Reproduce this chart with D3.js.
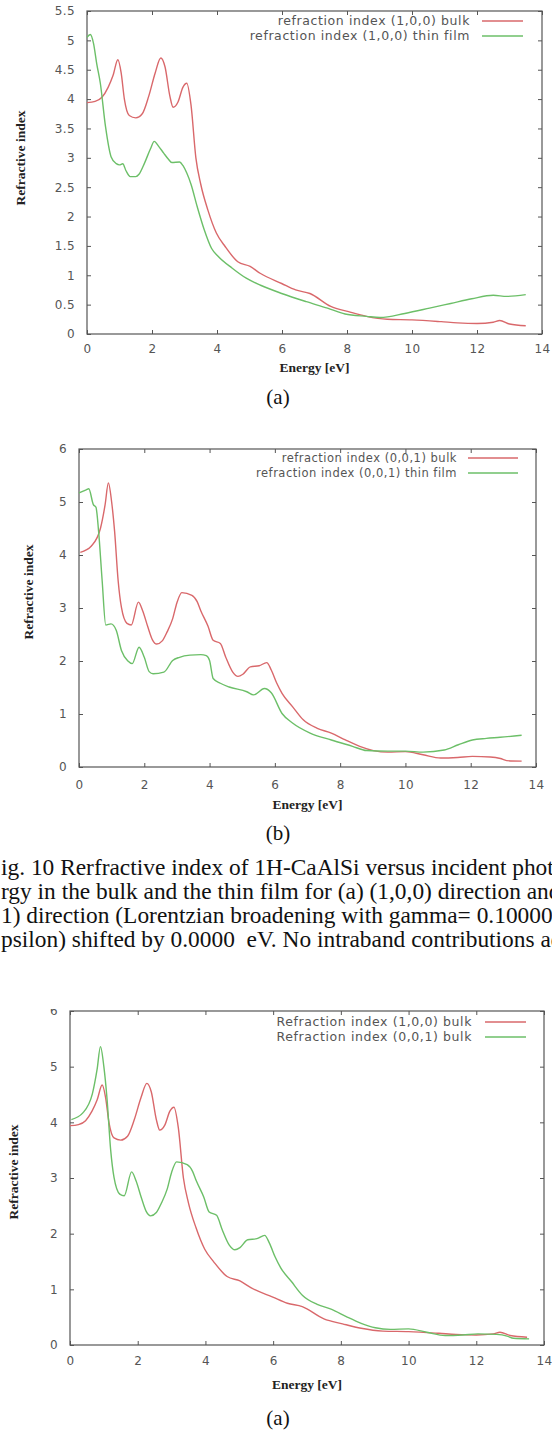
<!DOCTYPE html>
<html>
<head>
<meta charset="UTF-8">
<title>Refractive index of 1H-CaAlSi</title>
<script src="https://cdn.jsdelivr.net/npm/d3@7"></script>
<style>
    body { margin: 0; padding: 0; background: #fff; }
    svg { display: block; }
    .tick text { font-family: "DejaVu Sans", sans-serif; font-size: 12px; fill: #555; letter-spacing: 0.4px; }
    .tick line { stroke: #555; }
    .legend { font-family: "DejaVu Sans", sans-serif; fill: #555; }
    .axis-title { font-family: "Liberation Serif", "Times New Roman", serif; font-weight: bold; font-size: 13.5px; fill: #222; }
    .sub { font-family: "Liberation Serif", "Times New Roman", serif; font-size: 21px; fill: #111; }
    .caption { font-family: "Liberation Serif", "Times New Roman", serif; font-size: 23.4px; fill: #111; white-space: pre; }
</style>
</head>
<body>
<script>
    // (1,0,0) bulk
    const bulk100Energy = [0.00, 0.25, 0.46, 0.65, 0.80, 0.95, 1.05, 1.15, 1.30, 1.50, 1.70, 1.90, 2.10, 2.27, 2.40, 2.55, 2.65, 2.80, 2.95, 3.07, 3.20, 3.35, 3.50, 3.72, 3.98, 4.25, 4.64, 5.02, 5.34, 5.99, 6.42, 6.86, 7.50, 8.05, 8.60, 9.24, 10.0, 10.9, 11.4, 12.0, 12.5, 12.7, 13.0, 13.5];
    const bulk100Index  = [3.94, 3.96, 4.03, 4.20, 4.40, 4.67, 4.45, 4.00, 3.72, 3.68, 3.75, 4.05, 4.45, 4.70, 4.55, 4.05, 3.86, 3.95, 4.20, 4.27, 3.90, 3.00, 2.55, 2.11, 1.72, 1.49, 1.23, 1.15, 1.03, 0.86, 0.75, 0.69, 0.47, 0.38, 0.30, 0.25, 0.24, 0.21, 0.19, 0.18, 0.20, 0.23, 0.17, 0.14];

    // (1,0,0) thin film
    const film100Energy = [0.00, 0.10, 0.20, 0.30, 0.41, 0.57, 0.74, 0.90, 1.00, 1.10, 1.20, 1.33, 1.50, 1.60, 1.77, 1.95, 2.07, 2.20, 2.36, 2.50, 2.61, 2.85, 2.95, 3.07, 3.20, 3.39, 3.61, 3.83, 4.04, 4.47, 4.90, 5.34, 5.99, 6.75, 7.40, 7.94, 8.60, 9.02, 9.78, 10.54, 11.19, 11.84, 12.50, 12.92, 13.50];
    const film100Index  = [5.05, 5.10, 4.95, 4.60, 4.27, 3.53, 3.02, 2.90, 2.88, 2.90, 2.78, 2.68, 2.68, 2.72, 2.91, 3.15, 3.28, 3.20, 3.08, 2.98, 2.92, 2.93, 2.87, 2.74, 2.55, 2.17, 1.77, 1.46, 1.32, 1.12, 0.95, 0.83, 0.69, 0.55, 0.44, 0.34, 0.30, 0.28, 0.35, 0.44, 0.52, 0.60, 0.66, 0.64, 0.67];

    // (0,0,1) bulk
    const bulk001Energy = [0.04, 0.38, 0.66, 0.80, 0.90, 1.00, 1.09, 1.20, 1.30, 1.47, 1.60, 1.82, 1.95, 2.11, 2.25, 2.38, 2.55, 2.70, 2.87, 3.00, 3.15, 3.46, 3.62, 3.73, 3.95, 4.11, 4.33, 4.49, 4.71, 4.87, 5.02, 5.25, 5.52, 5.75, 5.89, 6.06, 6.22, 6.54, 6.87, 7.30, 7.73, 8.16, 8.60, 9.02, 9.46, 10.0, 10.54, 11.08, 11.60, 12.05, 12.60, 12.91, 13.10, 13.56];
    const bulk001Index  = [4.05, 4.17, 4.51, 4.95, 5.36, 5.00, 4.45, 3.51, 3.01, 2.71, 2.68, 3.11, 2.95, 2.64, 2.40, 2.32, 2.38, 2.55, 2.80, 3.10, 3.29, 3.24, 3.12, 2.95, 2.66, 2.39, 2.33, 2.08, 1.79, 1.71, 1.75, 1.89, 1.91, 1.97, 1.83, 1.58, 1.39, 1.14, 0.89, 0.73, 0.64, 0.51, 0.39, 0.31, 0.28, 0.29, 0.23, 0.17, 0.18, 0.20, 0.19, 0.16, 0.12, 0.11];

    // (0,0,1) thin film
    const film001Energy = [0.00, 0.22, 0.30, 0.44, 0.52, 0.60, 0.71, 0.82, 0.98, 1.14, 1.30, 1.50, 1.63, 1.84, 2.00, 2.15, 2.27, 2.60, 2.87, 3.08, 3.40, 3.73, 3.90, 4.00, 4.11, 4.33, 4.60, 5.14, 5.35, 5.68, 5.89, 6.22, 6.54, 7.08, 7.73, 8.38, 8.81, 9.46, 10.0, 10.54, 11.19, 11.62, 12.05, 12.48, 12.90, 13.56];
    const film001Index  = [5.17, 5.23, 5.25, 4.95, 4.90, 4.45, 3.51, 2.68, 2.70, 2.58, 2.20, 2.00, 1.95, 2.26, 2.07, 1.80, 1.76, 1.79, 2.01, 2.07, 2.11, 2.12, 2.10, 2.01, 1.67, 1.58, 1.51, 1.42, 1.36, 1.48, 1.40, 1.01, 0.83, 0.64, 0.51, 0.39, 0.31, 0.30, 0.30, 0.28, 0.32, 0.42, 0.51, 0.54, 0.56, 0.60];

    const xTicks = [0, 2, 4, 6, 8, 10, 12, 14];
    const yTicksA = [0, 0.5, 1, 1.5, 2, 2.5, 3, 3.5, 4, 4.5, 5, 5.5];
    const yTicksB = [0, 1, 2, 3, 4, 5, 6];

    const legendA = ["refraction index (1,0,0) bulk", "refraction index (1,0,0) thin film"];
    const legendB = ["refraction index (0,0,1) bulk", "refraction index (0,0,1) thin film"];
    const legendC = ["Refraction index (1,0,0) bulk", "Refraction index (0,0,1) bulk"];

    const captionLines = [
        "ig. 10 Rerfractive index of 1H-CaAlSi versus incident photon energy",
        "rgy in the bulk and the thin film for (a) (1,0,0) direction and (b)",
        "1) direction (Lorentzian broadening with gamma= 0.100000 eV",
        "psilon) shifted by 0.0000  eV. No intraband contributions added"
    ];

    const RED = "#d9686b", GREEN = "#6cbf68";

    const width = 552, height = 1432;
    const svg = d3.select("body").append("svg")
        .attr("width", width).attr("height", height);

    function series(energy, index) {
        return energy.map(function(e, i) { return {e: e, n: index[i]}; });
    }

    const panels = [
        {left: 87, right: 542, top: 11, bottom: 334, yMax: 5.5, yTicks: yTicksA,
         legend: legendA, legendSize: 12.5, legendSpacing: 0.6,
         legendEnd: 470, legendX1: 482, legendX2: 523, legendY: 21,
         titleX: 20, titleY: 158, tickY: 14, energyY: 372, sub: "(a)", subY: 404,
         clipTop: 0,
         lines: [series(bulk100Energy, bulk100Index), series(film100Energy, film100Index)]},
        {left: 79, right: 536, top: 449, bottom: 767, yMax: 6, yTicks: yTicksB,
         legend: legendB, legendSize: 11.5, legendSpacing: 0.5,
         legendEnd: 457, legendX1: 468, legendX2: 518, legendY: 458,
         titleX: 28, titleY: 592, tickY: 17, energyY: 809, sub: "(b)", subY: 840,
         clipTop: 420,
         lines: [series(bulk001Energy, bulk001Index), series(film001Energy, film001Index)]},
        {left: 70, right: 544, top: 1011, bottom: 1345, yMax: 6, yTicks: yTicksB,
         legend: legendC, legendSize: 12.5, legendSpacing: 0.6,
         legendEnd: 472, legendX1: 485, legendX2: 526, legendY: 1022,
         titleX: 13, titleY: 1172, tickY: 15, energyY: 1389, sub: "(a)", subY: 1425,
         clipTop: 1009,   // the scanned figure cuts the top of its "6" label
         lines: [series(bulk100Energy, bulk100Index), series(bulk001Energy, bulk001Index)]}
    ];

    const defs = svg.append("defs");

    panels.forEach(function(p, k) {
        const x = d3.scaleLinear().domain([0, 14]).range([p.left, p.right]);
        const y = d3.scaleLinear().domain([0, p.yMax]).range([p.bottom, p.top]);

        defs.append("clipPath").attr("id", "clip" + k)
            .append("rect")
            .attr("x", 0).attr("y", p.clipTop)
            .attr("width", width).attr("height", height - p.clipTop);

        const g = svg.append("g").attr("clip-path", "url(#clip" + k + ")");

        // axes, gnuplot style: ticks pointing inwards, mirrored
        g.append("g").attr("transform", "translate(0," + p.bottom + ")")
            .call(d3.axisBottom(x).tickValues(xTicks).tickSize(-4).tickPadding(p.tickY - 4))
            .call(a => a.select(".domain").remove());
        g.append("g").attr("transform", "translate(0," + p.top + ")")
            .call(d3.axisTop(x).tickValues(xTicks).tickSize(-4).tickFormat(""))
            .call(a => a.select(".domain").remove());
        g.append("g").attr("transform", "translate(" + p.left + ",0)")
            .call(d3.axisLeft(y).tickValues(p.yTicks).tickSize(-4).tickPadding(12).tickFormat(d => String(d)))
            .call(a => a.select(".domain").remove());
        g.append("g").attr("transform", "translate(" + p.right + ",0)")
            .call(d3.axisRight(y).tickValues(p.yTicks).tickSize(-4).tickFormat(""))
            .call(a => a.select(".domain").remove());

        g.append("rect")
            .attr("x", p.left).attr("y", p.top)
            .attr("width", p.right - p.left).attr("height", p.bottom - p.top)
            .attr("fill", "none").attr("stroke", "#555").attr("stroke-width", 1.2);

        const line = d3.line()
            .x(d => x(d.e)).y(d => y(d.n))
            .curve(d3.curveMonotoneX);

        [RED, GREEN].forEach(function(c, i) {
            g.append("path").datum(p.lines[i])
                .attr("d", line)
                .attr("fill", "none").attr("stroke", c)
                .attr("stroke-width", 1.4);

            g.append("text").attr("class", "legend")
                .attr("x", p.legendEnd).attr("y", p.legendY + i * 15)
                .attr("dy", "0.35em").attr("text-anchor", "end")
                .style("font-size", p.legendSize + "px")
                .style("letter-spacing", p.legendSpacing + "px")
                .text(p.legend[i]);
            g.append("line")
                .attr("x1", p.legendX1).attr("x2", p.legendX2)
                .attr("y1", p.legendY + i * 15).attr("y2", p.legendY + i * 15)
                .attr("stroke", c).attr("stroke-width", 1.4);
        });

        g.append("text").attr("class", "axis-title")
            .attr("transform", "translate(" + p.titleX + "," + p.titleY + ") rotate(-90)")
            .attr("text-anchor", "middle").attr("dy", "0.35em")
            .text("Refractive index");
        g.append("text").attr("class", "axis-title")
            .attr("x", (p.left + p.right) / 2).attr("y", p.energyY)
            .attr("text-anchor", "middle")
            .text("Energy [eV]");
        svg.append("text").attr("class", "sub")
            .attr("x", 278).attr("y", p.subY)
            .attr("text-anchor", "middle")
            .text(p.sub);
    });

    svg.selectAll(".caption").data(captionLines).join("text")
        .attr("class", "caption")
        .attr("x", 1)
        .attr("y", (d, i) => 875 + i * 24)
        .text(d => d);
</script>
</body>
</html>
